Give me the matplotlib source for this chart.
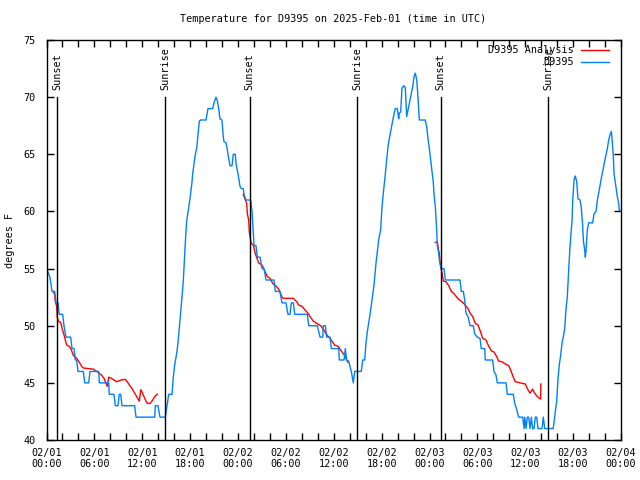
import numpy as np
import matplotlib
matplotlib.use("Agg")
import matplotlib.pyplot as plt
import matplotlib.dates as mdates

# ---- data (hours since 2025-02-01 00:00 UTC) ----
obs_hours = [0.03, 0.44, 0.69, 1.03, 1.19, 1.44, 1.60, 2.03, 2.19, 2.44, 3.03, 3.20, 3.45, 3.61, 3.78,
             3.95, 4.61, 4.79, 5.29, 5.45, 6.54, 6.62, 7.80, 7.87, 8.46, 8.62, 8.96, 9.12, 9.30, 9.46,
             11.05, 11.22, 13.56, 13.64, 13.97, 14.22, 14.89, 15.32, 15.73, 15.89, 16.07, 16.32, 16.48,
             16.73, 16.98, 17.15, 17.40, 17.57, 17.82, 18.07, 18.24, 18.32, 18.49, 18.65, 18.82, 18.99,
             19.15, 19.33, 19.99, 20.24, 20.83, 20.99, 21.24, 21.41, 21.58, 21.74, 21.99, 22.16, 22.25,
             22.50, 22.66, 22.84, 23.00, 23.25, 23.41, 23.66, 23.75, 24.00, 24.25, 24.41, 24.66, 24.75,
             25.00, 25.59, 25.76, 25.84, 25.92, 26.01, 26.26, 26.42, 26.76, 27.01, 27.26, 27.51, 28.51,
             28.68, 29.26, 29.51, 30.01, 30.26, 30.51, 30.68, 30.93, 31.11, 32.69, 32.86, 33.94, 34.28,
             34.62, 34.69, 34.94, 35.12, 35.53, 35.69, 36.62, 36.70, 37.29, 37.45, 37.62, 37.87, 38.20,
             38.45, 38.63, 39.45, 39.63, 39.88, 40.04, 40.21, 40.46, 40.71, 40.88, 41.05, 41.30, 41.46,
             41.63, 41.88, 42.05, 42.21, 42.39, 42.64, 42.80, 43.05, 43.30, 43.46, 43.71, 43.96, 44.14,
             44.21, 44.39, 44.55, 44.80, 44.97, 45.14, 45.31, 45.56, 45.72, 45.89, 46.06, 46.22, 46.40,
             46.56, 46.72, 47.47, 47.65, 47.81, 47.98, 48.15, 48.31, 48.48, 48.56, 48.73, 48.82, 48.90,
             48.98, 49.15, 49.23, 49.40, 49.48, 49.82, 49.98, 51.82, 51.99, 52.24, 52.41, 52.58, 52.83,
             53.08, 53.49, 53.66, 53.99, 54.33, 54.49, 54.92, 54.99, 55.92, 56.08, 56.33, 56.50, 57.59,
             57.75, 58.50, 58.68, 58.84, 59.09, 59.18, 59.68, 59.85, 59.93, 60.10, 60.26, 60.43, 60.60,
             60.76, 60.93, 61.10, 61.26, 61.43, 61.60, 62.10, 62.26, 62.44, 63.50, 63.60, 63.77, 63.94,
             64.11, 64.27, 64.44, 64.61, 64.77, 64.95, 65.11, 65.27, 65.45, 65.61, 65.77, 65.86, 65.95,
             66.11, 66.27, 66.45, 66.61, 66.86, 67.03, 67.20, 67.28, 67.45, 67.53, 67.62, 67.78, 67.95,
             68.45, 68.62, 68.87, 69.04, 69.28, 69.53, 69.78, 70.03, 70.29, 70.46, 70.62, 70.79, 70.87,
             71.04, 71.13, 71.29, 71.54, 71.71, 71.79, 72.0]
obs_temp = [55, 54.2, 53, 53, 52, 52, 51, 51, 50, 49, 49, 48, 48, 47, 47,
            46, 46, 45, 45, 46, 46, 45, 45, 44, 44, 43, 43, 44, 44, 43,
            43, 42, 42, 43, 43, 42, 42, 44, 44, 45.5, 46.6, 47.6, 48.5,
            50.5, 52.5, 54, 57.3, 59.2, 60.3, 61.6, 62.6, 63.3, 64.2, 65, 65.5, 66.7,
            67.9, 68, 68, 69, 69, 69.5, 70, 69.7, 69, 68.1, 68, 66.5, 66.1,
            66, 65.4, 64.6, 64, 64, 65, 65, 64.2, 63.3, 62.2, 62, 62, 61.5,
            61, 61, 60, 59.1, 58.1, 57, 57, 56, 56, 55, 55, 54, 54,
            53, 53, 52, 52, 51, 51, 52, 52, 51, 51, 50, 50, 49,
            49, 50, 50, 49, 49, 48, 48, 47, 47, 48, 47, 46.9, 46,
            45, 46, 46, 47, 47, 48.5, 49.5, 50.6, 51.8, 52.7, 53.6, 55.5, 56.5,
            57.5, 58.4, 60.4, 61.6, 62.75, 64.5, 65.7, 66.7, 67.6, 68.2, 69, 69, 68.1,
            68.6, 68.7, 70.8, 71, 70.8, 68.3, 68.9, 69.75, 70.3, 70.9, 71.8, 72.1, 71.5,
            70, 68, 68, 67.4, 66.4, 65.5, 64.5, 63.5, 62.5, 61.6, 60.4, 59.25, 58.4,
            57, 56.4, 55.75, 55.2, 55, 55, 54, 54, 53, 53, 52.25, 51.1, 50.8,
            50, 50, 49.3, 49, 48.9, 48, 48, 47, 47, 46, 45.7, 45, 45,
            44, 44, 43.2, 42.9, 42.2, 42, 42, 41, 42, 41, 42, 42, 41,
            42, 41, 41, 42, 42, 41, 41, 42, 41, 41, 41.5, 42.5, 43.4,
            45.4, 46.6, 47.4, 48.5, 49, 49.8, 51.5, 52.5, 55, 56.9, 58.4, 59.1, 61,
            62.75, 63.1, 62.6, 61.1, 61, 60.3, 58.7, 57.5, 56.6, 56, 56.6, 58.4, 59,
            59, 59.8, 60, 61, 61.9, 62.9, 63.8, 64.65, 65.5, 66.25, 66.7, 67, 66.4,
            64.8, 63.3, 62.5, 61.3, 60.7, 60.1, 60]

ana1_hours = [0.85, 1.03, 1.10, 1.28, 1.35, 1.53, 1.78, 1.94, 2.19, 2.36, 2.53, 2.86, 3.11, 3.36, 3.78,
              4.20, 4.45, 4.61, 5.87, 6.29, 6.87, 7.21, 7.37, 7.62, 7.80, 8.12, 8.46, 8.80, 9.37, 9.88,
              10.21, 10.72, 11.05, 11.30, 11.63, 11.81, 11.97, 12.22, 12.47, 12.63, 12.97, 13.31, 13.56, 13.89]
ana1_temp = [53, 52.7, 52.1, 51.7, 50.7, 50.35, 50.3, 49.8, 49.2, 48.75, 48.3, 48.2, 47.9, 47.4, 47.15,
             46.7, 46.4, 46.3, 46.2, 46, 45.7, 45.4, 45.1, 44.7, 45.5, 45.4, 45.25, 45.1, 45.25, 45.3,
             45, 44.5, 44.1, 43.8, 43.4, 44.4, 44.2, 43.8, 43.4, 43.2, 43.2, 43.5, 43.8, 44]
ana2_hours = [24.66, 24.92, 25.09, 25.17, 25.34, 25.42, 25.50, 25.67, 25.92, 26.17, 26.59, 27.01, 27.42,
              27.67, 28.01, 28.35, 28.85, 29.18, 29.51, 29.68, 30.93, 31.36, 31.61, 32.02, 32.36, 32.77,
              33.02, 33.44, 33.86, 34.37, 34.78, 35.12, 35.53, 36.12, 36.53, 37.04, 37.37, 37.62, 37.79]
ana2_temp = [61.5, 61, 60.7, 59.8, 59.25, 58.2, 57.8, 57.2, 57.06, 56.3, 55.5, 55.3, 54.7,
             54.3, 54.15, 53.7, 53.4, 53.1, 52.5, 52.4, 52.4, 52.1, 51.8, 51.7, 51.4, 51.1,
             50.8, 50.4, 50.2, 50, 49.6, 49.2, 48.9, 48.3, 48.2, 47.7, 47.4, 47, 46.8]
ana3_hours = [48.73, 48.98, 49.07, 49.23, 49.32, 49.40, 49.57, 49.73, 50.07, 50.41, 50.73, 51.07, 51.41,
              51.74, 52.07, 52.49, 52.83, 53.08, 53.41, 53.74, 54.08, 54.33, 54.67, 55.08, 55.42, 55.75,
              56.08, 56.42, 56.67, 57.09, 57.50, 57.93, 58.18, 58.50, 58.75, 59.09, 59.59, 60.01, 60.26,
              60.60, 60.93, 61.18, 61.51, 61.85, 61.94, 61.95]
ana3_temp = [57.3, 57.3, 56.9, 56.3, 55.6, 55.2, 54.6, 53.9, 53.85, 53.5, 53, 52.8, 52.5,
             52.25, 52.1, 51.8, 51.5, 51.1, 50.8, 50.2, 50.07, 49.6, 48.9, 48.75, 48.2, 47.8,
             47.7, 47.3, 46.9, 46.85, 46.65, 46.5, 46.1, 45.5, 45.1, 45.05, 44.96, 44.9, 44.5,
             44.1, 44.45, 44.1, 43.8, 43.6, 43.6, 44.9]

sun_hours = [1.35, 14.89, 25.45, 38.93, 49.42, 62.88]
sun_labels = ["Sunset", "Sunrise", "Sunset", "Sunrise", "Sunset", "Sunrise"]

title = "Temperature for D9395 on 2025-Feb-01 (time in UTC)"
ylabel = "degrees F"
legend_names = ["D9395 Analysis", "D9395"]
y_min, y_max = 40, 75
x_start, x_end = "2025-02-01T00:00", "2025-02-04T00:00"

base = np.datetime64(x_start)
def to_time(h):
    return base + (np.asarray(h, dtype=float) * 3600).astype("timedelta64[s]")

FONT = "DejaVu Sans Mono"
FS = 7.3
plt.rcParams["font.family"] = FONT
plt.rcParams["font.size"] = FS

fig = plt.figure(figsize=(6.4, 4.8), dpi=100)
ax = fig.add_axes([46.5 / 640, 40 / 480, 574.5 / 640, 400 / 480])

red = "#ff0000"
blue = "#0080ff"

ax.plot(to_time(ana1_hours), ana1_temp, color=red, lw=1.0)
ax.plot(to_time(ana2_hours), ana2_temp, color=red, lw=1.0)
ax.plot(to_time(ana3_hours), ana3_temp, color=red, lw=1.0)
ax.plot(to_time(obs_hours), obs_temp, color=blue, lw=1.0)

for h, lab in zip(sun_hours, sun_labels):
    t = to_time(h)
    ax.plot([t, t], [y_min, 70.0], color="black", lw=1.0)
    ax.text(t, 70.6, lab, rotation=90, ha="center", va="bottom", fontsize=FS)

ax.set_xlim(np.datetime64(x_start), np.datetime64(x_end))
ax.set_ylim(y_min, y_max)
ax.set_yticks(np.arange(y_min, y_max + 1, 5))
ax.xaxis.set_major_locator(mdates.HourLocator(byhour=range(0, 24, 6)))
ax.xaxis.set_minor_locator(mdates.HourLocator(byhour=range(0, 24, 2)))
ax.xaxis.set_major_formatter(mdates.DateFormatter("%m/%d\n%H:%M"))
for lab in ax.get_xticklabels():
    lab.set_linespacing(1.05)
ax.tick_params(axis="both", which="both", direction="in", top=True, right=True,
               width=1.0, labelsize=FS)
ax.tick_params(axis="both", which="major", length=5)
ax.tick_params(axis="x", which="minor", length=5)
ax.tick_params(axis="x", which="major", pad=6)
ax.tick_params(axis="y", which="major", pad=8)
for s in ax.spines.values():
    s.set_linewidth(1.0)

fig.text(10 / 640, 1 - 240 / 480, ylabel, rotation=90, ha="center", va="center", fontsize=FS)
fig.text(0.52, 1 - 19 / 480, title, ha="center", va="center", fontsize=FS)

# legend drawn gnuplot-style: text right-aligned, sample line to its right
for i, (name, col) in enumerate(zip(legend_names, [red, blue])):
    yy = 0.975 - i * 0.031
    ax.text(0.918, yy, name, transform=ax.transAxes, ha="right", va="center", fontsize=FS)
    ax.plot([0.930, 0.979], [yy, yy], transform=ax.transAxes, color=col, lw=1.0)

fig.savefig("out.png", dpi=100)
